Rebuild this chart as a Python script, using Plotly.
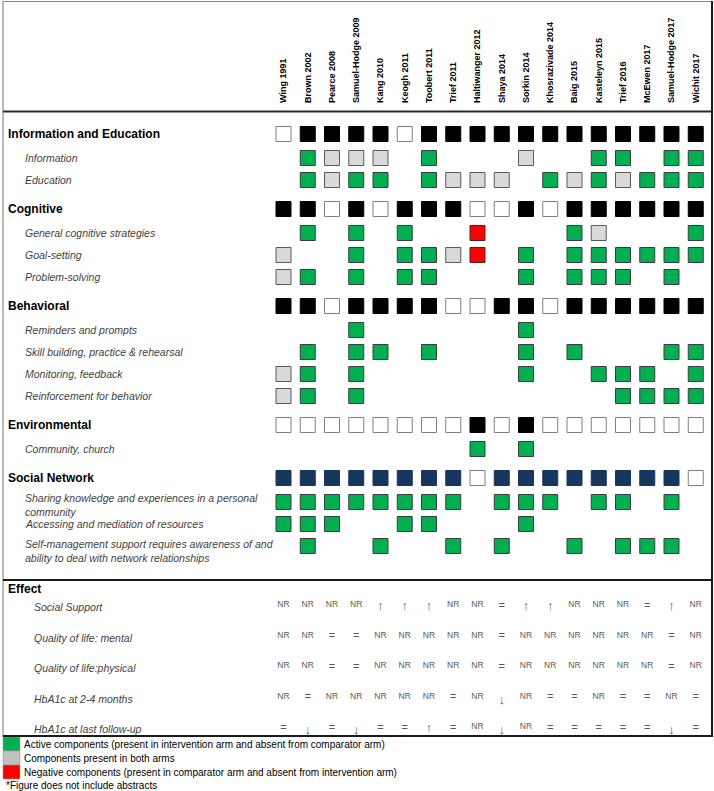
import plotly.graph_objects as go

# ---------------- DATA ----------------
STUDIES = ["Wing 1991", "Brown 2002", "Pearce 2008", "Samuel-Hodge 2009", "Kang 2010",
           "Keogh 2011", "Toobert 2011", "Trief 2011", "Haltiwanger 2012", "Shaya 2014",
           "Sorkin 2014", "Khosrazivade 2014", "Baig 2015", "Kasteleyn 2015", "Trief 2016",
           "McEwen 2017", "Samuel-Hodge 2017", "Wichit 2017"]

# Component rows; header rows use B=black (present), W=white (absent), N=navy (present)
# sub rows use G=active (green), S=present in both arms (grey), R=negative (red), .=none
ROW_LABELS = ["Information and Education", "Information", "Education",
              "Cognitive", "General cognitive strategies", "Goal-setting", "Problem-solving",
              "Behavioral", "Reminders and prompts", "Skill building, practice & rehearsal",
              "Monitoring, feedback", "Reinforcement for behavior",
              "Environmental", "Community, church",
              "Social Network", "Sharing knowledge and experiences in a personal<br>community",
              "Accessing and mediation of resources",
              "Self-management support requires awareness of and<br>ability to deal with network relationships"]
ROW_IS_HEADER = [True, False, False,
                 True, False, False, False,
                 True, False, False, False, False,
                 True, False,
                 True, False, False, False]
ROW_CODES = ["WBBBBWBBBBBBBBBBBB",
             ".GSSS.G...S..GG.GG",
             ".GSGG.GSSS.GSGSGGG",
             "BBWBWBBBWWBWBBBBBB",
             ".G.G.G..R...GS...G",
             "S..G.GGSR.G.GGGGGG",
             "SG.G.GG...G.GGG.G.",
             "BBWBBBBWWBBWBBBBBB",
             "...G......G.......",
             ".G.GG.G...G.G...GG",
             "SG.G......G..GGG.G",
             "SG.G..........GGGG",
             "WWWWWWWWBWBWWWWWWW",
             "........G.G.......",
             "NNNNNNNNWNNNNNNNNW",
             "GGGGGGGG.GGG.GG.G.",
             "GGG..GG...G.......",
             ".G..G..G.G..G.GGG."]

EFFECT_LABELS = ["Social Support", "Quality of life: mental", "Quality of life:physical",
                 "HbA1c at 2-4 months", "HbA1c at last follow-up"]
EFFECT_SOCIAL = ["NR", "NR", "NR", "NR", "↑", "↑", "↑", "NR", "NR", "=", "↑", "↑", "NR", "NR", "NR", "=", "↑", "NR"]
EFFECT_QOL_MENTAL = ["NR", "NR", "=", "=", "NR", "NR", "NR", "NR", "NR", "=", "NR", "NR", "NR", "NR", "NR", "NR", "=", "NR"]
EFFECT_QOL_PHYS = ["NR", "NR", "=", "=", "NR", "NR", "NR", "NR", "NR", "=", "NR", "NR", "NR", "NR", "NR", "NR", "=", "NR"]
EFFECT_HBA_24 = ["NR", "=", "NR", "NR", "NR", "NR", "NR", "=", "NR", "↓", "NR", "=", "=", "NR", "=", "=", "NR", "="]
EFFECT_HBA_LAST = ["=", "↓", "=", "↓", "=", "=", "↑", "=", "NR", "↓", "NR", "=", "=", "=", "=", "=", "↓", "="]
EFFECT_VALUES = [EFFECT_SOCIAL, EFFECT_QOL_MENTAL, EFFECT_QOL_PHYS, EFFECT_HBA_24, EFFECT_HBA_LAST]

LEGEND_TEXT = ["Active components (present in intervention arm and absent from comparator arm)",
               "Components present in both arms",
               "Negative components (present in comparator arm and absent from intervention arm)"]
FOOTNOTE = "*Figure does not include abstracts"

# ---------------- LAYOUT / STYLE ----------------
W, H = 714, 791
TOP = 104            # plot area starts below the rotated study labels
X0, DX = 283.5, 24.25
FONT = "Liberation Sans, Arial, sans-serif"

STYLE = {
    "B": dict(fill="#000000", line="#000000"),
    "W": dict(fill="#ffffff", line="#7f7f7f"),
    "N": dict(fill="#17375e", line="#17375e"),
    "G": dict(fill="#00b050", line="#3c3c3c"),
    "S": dict(fill="#d9d9d9", line="#5a5a5a"),
    "R": dict(fill="#ff0000", line="#5a2020"),
}


def px(x):
    return x / W


def py(y):
    return (H - y) / (H - TOP)


# vertical layout of component rows (pixel centres), derived from row order
row_y = []
y = 134.0
for i, hdr in enumerate(ROW_IS_HEADER):
    if i > 0:
        prev_hdr = ROW_IS_HEADER[i - 1]
        if hdr:
            y += 29
        elif prev_hdr:
            y += 24
        else:
            y += 22
    row_y.append(y)

EFFECT_Y0, EFFECT_DY = 605.0, 30.5
effect_y = [EFFECT_Y0 + k * EFFECT_DY for k in range(len(EFFECT_LABELS))]

fig = go.Figure()

# squares
for code, st in STYLE.items():
    xs, ys = [], []
    for r, codes in enumerate(ROW_CODES):
        for c, ch in enumerate(codes):
            if ch == code:
                xs.append(c)
                ys.append(row_y[r])
    if xs:
        fig.add_trace(go.Scatter(
            x=xs, y=ys, mode="markers", hoverinfo="skip", showlegend=False,
            marker=dict(symbol="square", size=15, color=st["fill"],
                        line=dict(color=st["line"], width=1))))

# effect symbols
ex, ey, et, es = [], [], [], []
for r, vals in enumerate(EFFECT_VALUES):
    for c, v in enumerate(vals):
        ex.append(c)
        off = 0
        size = 8.5
        if v == "↑":
            off, size = 2, 13
        elif v == "↓":
            off, size = 4, 13
        elif v == "=":
            off, size = 1, 11
        ey.append(effect_y[r] + off)
        et.append(v)
        es.append(size)
fig.add_trace(go.Scatter(x=ex, y=ey, mode="text", text=et, hoverinfo="skip", showlegend=False,
                         textfont=dict(family=FONT, size=es, color="#595959")))

annotations = []
# row labels
for r, lab in enumerate(ROW_LABELS):
    if ROW_IS_HEADER[r]:
        annotations.append(dict(x=px(6), xref="paper", y=row_y[r], yref="y", text=lab,
                                showarrow=False, xanchor="left", yanchor="middle", align="left",
                                font=dict(family=FONT, size=12, color="#000000", weight="bold")))
    else:
        yy = row_y[r]
        if "<br>" in lab:
            yy = row_y[r] + 5 if r == len(ROW_LABELS) - 1 else row_y[r] + 3
        annotations.append(dict(x=px(23), xref="paper", y=yy, yref="y", text="<i>" + lab + "</i>",
                                showarrow=False, xanchor="left", yanchor="middle", align="left",
                                font=dict(family=FONT, size=10.5, color="#3f3f3f")))

annotations.append(dict(x=px(6), xref="paper", y=589, yref="y", text="Effect", showarrow=False,
                        xanchor="left", yanchor="middle",
                        font=dict(family=FONT, size=12, color="#000000", weight="bold")))
for k, lab in enumerate(EFFECT_LABELS):
    annotations.append(dict(x=px(32), xref="paper", y=effect_y[k] + 2, yref="y", text="<i>" + lab + "</i>",
                            showarrow=False, xanchor="left", yanchor="middle",
                            font=dict(family=FONT, size=10.5, color="#3f3f3f")))

# legend
LEG_COLORS = ["#00b050", "#c0c0c0", "#ff0000"]
LEG_Y = [737, 751, 765]
shapes = []
for k, txt in enumerate(LEGEND_TEXT):
    shapes.append(dict(type="rect", xref="paper", yref="paper", x0=px(3), x1=px(20),
                       y0=py(LEG_Y[k]), y1=py(LEG_Y[k] + 14),
                       fillcolor=LEG_COLORS[k], line=dict(color="#9a9a9a", width=0.6)))
    annotations.append(dict(x=px(22), xref="paper", y=LEG_Y[k] + 7, yref="y", text=txt,
                            showarrow=False, xanchor="left", yanchor="middle",
                            font=dict(family=FONT, size=10, color="#000000")))
annotations.append(dict(x=px(4), xref="paper", y=785, yref="y", text=FOOTNOTE, showarrow=False,
                        xanchor="left", yanchor="middle",
                        font=dict(family=FONT, size=10, color="#000000")))

# frame lines
def hline(yv, x0, x1, color, width):
    shapes.append(dict(type="line", xref="paper", yref="paper", x0=px(x0), x1=px(x1),
                       y0=py(yv), y1=py(yv), line=dict(color=color, width=width)))


def vline(xv, y0, y1, color, width):
    shapes.append(dict(type="line", xref="paper", yref="paper", x0=px(xv), x1=px(xv),
                       y0=py(y0), y1=py(y1), line=dict(color=color, width=width)))

hline(1.5, 3, 712, "#8a8a8a", 1)
vline(3, 1, 737, "#8a8a8a", 1.2)
vline(712, 1, 737, "#1a1a1a", 2)
hline(111.5, 3, 712, "#2a2a2a", 2)
hline(580, 3, 712, "#1a1a1a", 2)
hline(736, 3, 712, "#1a1a1a", 2)

fig.update_layout(
    width=W, height=H, margin=dict(l=0, r=0, t=TOP, b=0),
    paper_bgcolor="white", plot_bgcolor="white",
    showlegend=False, shapes=shapes, annotations=annotations,
    xaxis=dict(range=[(0 - X0) / DX, (W - X0) / DX], side="top",
               tickmode="array", tickvals=list(range(len(STUDIES))), ticktext=STUDIES,
               tickangle=-90, ticks="", showgrid=False, zeroline=False, showline=False,
               tickfont=dict(family=FONT, size=9, color="#000000", weight="bold"),
               fixedrange=True),
    yaxis=dict(range=[H, TOP], autorange=False, visible=False, showgrid=False,
               zeroline=False, fixedrange=True),
)

fig.write_html("out.html",
               config={"displayModeBar": False},
               post_script="document.body.style.margin='0';document.body.style.padding='0';"
                           "document.documentElement.style.overflow='hidden';")
